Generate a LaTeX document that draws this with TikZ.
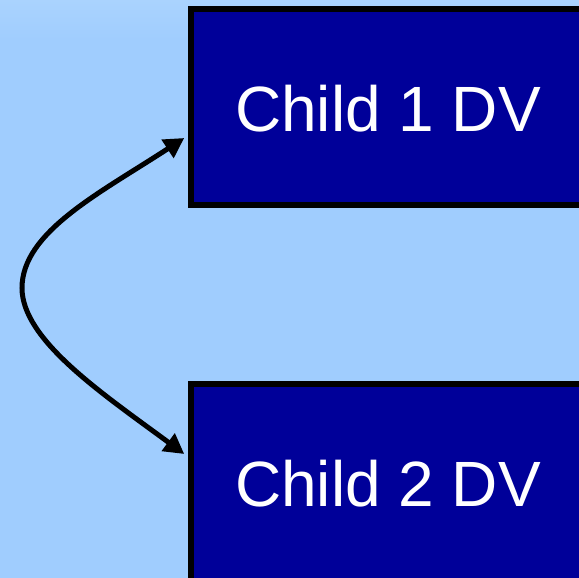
\documentclass[tikz,border=0pt]{standalone}
\usepackage{fontspec}
\setmainfont{Liberation Sans}
\usetikzlibrary{arrows.meta}

\definecolor{skyblue}{HTML}{A0CDFE}
\definecolor{skytop}{HTML}{AAD3FE}
\definecolor{navybox}{HTML}{000099}

\begin{document}
\begin{tikzpicture}[x=1pt,y=-1pt,
  dvbox/.style={draw=black,line width=5.5pt,fill=navybox,text=white,
    font=\fontsize{64}{64}\selectfont,inner sep=0pt}]
  \useasboundingbox (0,0) rectangle (579,578);
  \clip (0,0) rectangle (579,578);
  \fill[skyblue] (0,0) rectangle (579,578);
  \shade[top color=skytop,bottom color=skyblue] (0,0) rectangle (579,40);

  \node[dvbox,minimum width=400pt,minimum height=196pt] (child1) at (391,107) {};
  \node at (388,109) [text=white,font=\fontsize{64}{64}\selectfont] (lab1) {Child 1 DV};
  \node[dvbox,minimum width=400pt,minimum height=200pt] (child2) at (391,484) {};
  \node at (388,484) [text=white,font=\fontsize{64}{64}\selectfont] (lab2) {Child 2 DV};

  \coordinate (bend) at (22,288);
  \begin{scope}[line width=5pt,{Triangle[length=20pt,width=21pt]}-{Triangle[length=20pt,width=21pt]}]
  \draw ([xshift=-4pt,yshift=-31pt]child1.west) .. controls (100,193) and (22,232) .. (bend)
    .. controls (22,340) and (103,394) .. ([xshift=-4pt,yshift=30pt]child2.west);
  \end{scope}
\end{tikzpicture}
\end{document}
